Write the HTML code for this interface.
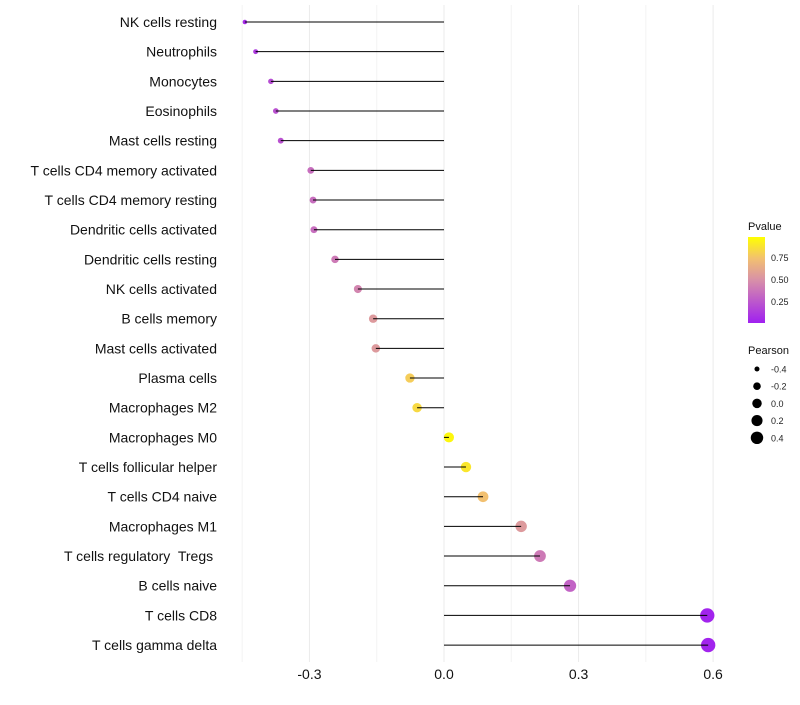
<!DOCTYPE html>
<html><head><meta charset="utf-8">
<style>
body{margin:0;background:#fff;font-family:"Liberation Sans",sans-serif;}
svg text{font-family:"Liberation Sans",sans-serif;white-space:pre;}
</style></head>
<body>
<svg id="chart" width="800" height="700" xmlns="http://www.w3.org/2000/svg">
<defs>
<linearGradient id="pg" x1="0" y1="1" x2="0" y2="0">
<stop offset="0" stop-color="#a020f0"/>
<stop offset="0.5" stop-color="#d890a8"/>
<stop offset="0.75" stop-color="#f2c070"/>
<stop offset="1" stop-color="#ffff00"/>
</linearGradient>
</defs>
<g id="grid"></g>
<g id="points"></g>
<g id="marks"></g>
<g id="ylabels"></g>
<g id="xlabels"></g>
<g>
<text x="748" y="230" font-size="11" fill="#111">Pvalue</text>
<rect x="748" y="237" width="17" height="86" fill="url(#pg)"/>
<text x="771" y="261" font-size="9" fill="#222">0.75</text>
<text x="771" y="283" font-size="9" fill="#222">0.50</text>
<text x="771" y="305" font-size="9" fill="#222">0.25</text>
</g>
<g id="sizeleg">
<text x="748" y="354" font-size="11" fill="#111">Pearson</text>
</g>
</svg>
<script>
const categories=["NK cells resting","Neutrophils","Monocytes","Eosinophils","Mast cells resting","T cells CD4 memory activated","T cells CD4 memory resting","Dendritic cells activated","Dendritic cells resting","NK cells activated","B cells memory","Mast cells activated","Plasma cells","Macrophages M2","Macrophages M0","T cells follicular helper","T cells CD4 naive","Macrophages M1","T cells regulatory  Tregs ","B cells naive","T cells CD8","T cells gamma delta"];
const pearson=[-0.444,-0.42,-0.386,-0.375,-0.364,-0.297,-0.292,-0.29,-0.243,-0.192,-0.158,-0.152,-0.076,-0.06,0.011,0.049,0.087,0.172,0.214,0.281,0.587,0.589];
const pvalue=[0.05,0.12,0.2,0.22,0.22,0.35,0.35,0.35,0.4,0.45,0.55,0.55,0.8,0.85,0.97,0.9,0.75,0.55,0.4,0.3,0.02,0.02];
const xTicks=[-0.3,0.0,0.3,0.6];
const xTickLabels=["-0.3","0.0","0.3","0.6"];
const sizeLegend=[-0.4,-0.2,0.0,0.2,0.4];
const NS="http://www.w3.org/2000/svg";
const x=v=>444+v*448.5;
const y=i=>22+i*29.67;
const r=v=>Math.sqrt(Math.max(3,25+45*v));
function col(p){
 const stops=[[0,[160,32,240]],[0.5,[216,144,168]],[0.75,[242,192,112]],[1,[255,255,0]]];
 for(let k=1;k<stops.length;k++){if(p<=stops[k][0]){const a=stops[k-1],b=stops[k];const t=(p-a[0])/(b[0]-a[0]);return "rgb("+a[1].map((c,j)=>Math.round(c+(b[1][j]-c)*t)).join(",")+")";}}
 return "rgb(255,255,0)";
}
function mk(tag,attrs,parent){const e=document.createElementNS(NS,tag);for(const k in attrs)e.setAttribute(k,attrs[k]);parent.appendChild(e);return e;}
const grid=document.getElementById('grid');
for(let v=-0.45;v<=0.6001;v+=0.15){
 const l=mk('line',{x1:x(v),x2:x(v),y1:5,y2:662,stroke:Math.abs(Math.round(v/0.15))%2===0?'#ebebeb':'#f3f3f3','stroke-width':1},grid);
 
 
}
const marks=document.getElementById('marks'),pts=document.getElementById('points'),yl=document.getElementById('ylabels');
categories.forEach((c,i)=>{
 const p=mk('circle',{cx:x(pearson[i]),cy:y(i),r:r(pearson[i]),fill:col(pvalue[i])},pts);
 
 
 const s=mk('line',{x1:x(0),x2:x(pearson[i]),y1:y(i),y2:y(i),stroke:'#000','stroke-width':1},marks);
 
 
 const t=mk('text',{x:217,y:y(i)+5,'text-anchor':'end','font-size':14,fill:'#111'},yl);
 t.textContent=c;
 
 
});
const xl=document.getElementById('xlabels');
xTicks.forEach((v,i)=>{
 const t=mk('text',{x:x(v),y:679,'text-anchor':'middle','font-size':14,fill:'#111'},xl);
 t.textContent=xTickLabels[i];
 
 
});
const sl=document.getElementById('sizeleg');
sizeLegend.forEach((v,i)=>{
 const cy=369+i*17.2;
 const c=mk('circle',{cx:757,cy:cy,r:r(v)*0.95,fill:'#000'},sl);
 
 
 const t=mk('text',{x:771,y:cy+3.5,'font-size':9,fill:'#222'},sl);
 t.textContent=v.toFixed(1);
 
 
});
</script>
</body></html>
